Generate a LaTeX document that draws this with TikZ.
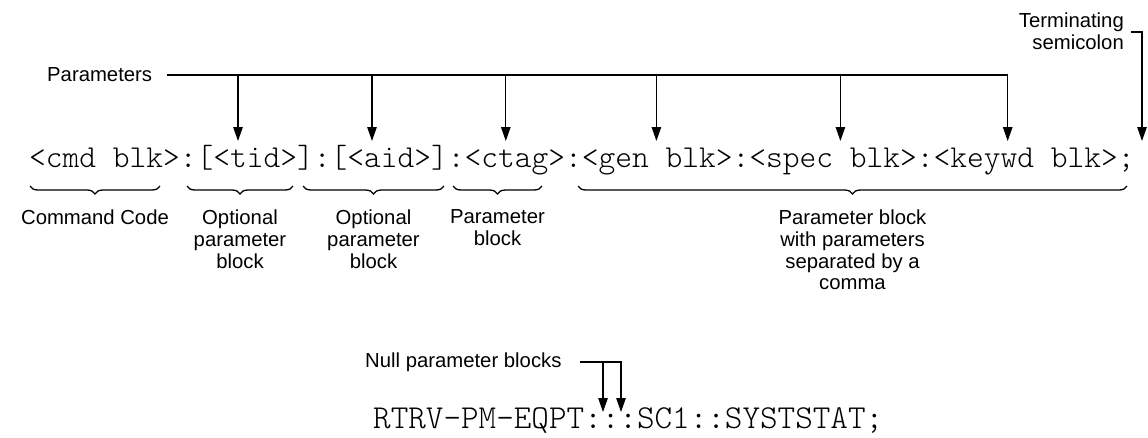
\documentclass[tikz,border=0pt]{standalone}
\usepackage{fontspec}
\setmainfont{Liberation Sans}
\setmonofont{Latin Modern Mono Light}
\usetikzlibrary{arrows.meta,decorations.pathreplacing}
\begin{document}
\begin{tikzpicture}[x=1pt,y=-1pt,
  lbl/.style={font=\fontsize{20.3}{21.8}\selectfont, align=center, inner sep=0pt, anchor=north},
  side/.style={font=\fontsize{20.3}{22}\selectfont, inner sep=0pt},
  codetxt/.style={font=\ttfamily\fontsize{31.9}{33}\selectfont, inner sep=0pt, anchor=base west},
  arr/.style={-{Triangle[length=14pt,width=9.5pt]}, line width=1.2pt},
  ln/.style={line width=1.2pt},
  brc/.style={decorate, decoration={brace, mirror, amplitude=8pt}, line width=1.3pt}]
\useasboundingbox (0,0) rectangle (1148,437);

% top code line
\node[codetxt] (code) at (29,167) {<cmd blk>:[<tid>]:[<aid>]:<ctag>:<gen blk>:<spec blk>:<keywd blk>;};

% Parameters
\node[side, anchor=west] (par) at (47,75) {Parameters};
\coordinate (p0) at (167,75);
\foreach \i/\x in {1/238, 2/372, 3/505.8, 4/656.4, 5/840.4, 6/1007.7} {
  \coordinate (j\i) at (\x,75);
  \coordinate (t\i) at (\x,141);
}
\foreach \i in {1,...,5} { \draw[arr] (j\i) -- (t\i); }
\draw[arr] (p0) -- (j6) -- (t6);

% Terminating semicolon
\node[side, align=right, anchor=north east] (term) at (1124,12.5) {Terminating\\semicolon};
\coordinate (s0) at (1131,32);
\coordinate (s1) at (1142,32);
\coordinate (s2) at (1142,141);
\draw[arr] (s0) -- (s1) -- (s2);

% braces
\draw[brc] (30,186) -- (160,186);
\draw[brc] (187,186) -- (293,186);
\draw[brc] (303,186) -- (444,186);
\draw[brc] (453,186) -- (542,186);
\draw[brc] (578,186) -- (1127,186);

% labels
\node[lbl] (l1) at (95,209.5) {Command Code};
\node[lbl] (l2) at (240,209.5) {Optional\\parameter\\block};
\node[lbl] (l3) at (373.5,209.5) {Optional\\parameter\\block};
\node[lbl] (l4) at (497.5,209.5) {Parameter\\block};
\node[lbl] (l5) at (852.5,209.5) {Parameter block\\with parameters\\separated by a\\comma};

% example
\node[codetxt, font=\ttfamily\fontsize{33.5}{35}\selectfont] (ex) at (373,428) {RTRV-PM-EQPT:::SC1::SYSTSTAT;};
\node[side, anchor=base west] (null) at (365,367) {Null parameter blocks};
\coordinate (n0) at (580,362);
\coordinate (m1) at (603,362);
\coordinate (m2) at (621,362);
\coordinate (n1) at (603,412);
\coordinate (n2) at (621,412);
\draw[arr] (n0) -- (m2) -- (n2);
\draw[arr] (m1) -- (n1);
\end{tikzpicture}
\end{document}
